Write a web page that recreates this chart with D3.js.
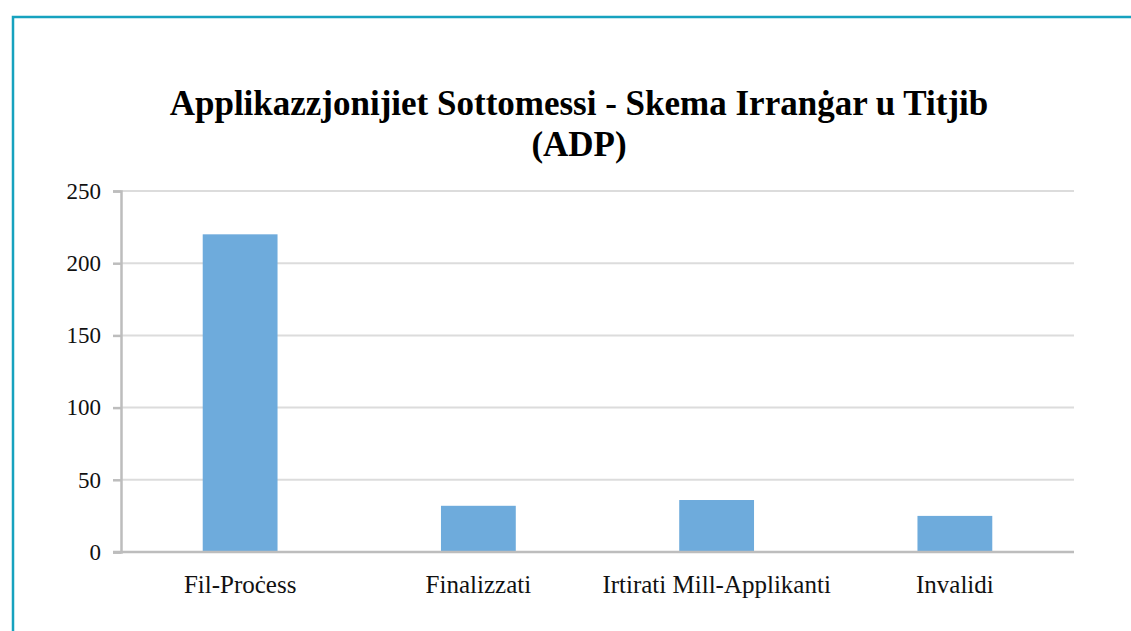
<!DOCTYPE html>
<html>
<head>
<meta charset="utf-8">
<script src="https://cdn.jsdelivr.net/npm/d3@7"></script>
<style>
  body { margin: 0; background: #fff; }
  svg { display: block; }
</style>
</head>
<body>
<div id="chart"></div>
<script>
// data
var categories = ["Fil-Proċess", "Finalizzati", "Irtirati Mill-Applikanti", "Invalidi"];
var values = [220, 32, 36, 25];
var yTicks = [0, 50, 100, 150, 200, 250];
var titleLines = ["Applikazzjonijiet Sottomessi - Skema Irranġar u Titjib", "(ADP)"];

var serif = "'Liberation Serif', 'Times New Roman', 'DejaVu Serif', serif";

var W = 1131, H = 631;
var margin = {top: 191, right: 57, bottom: 79, left: 121};
var width = W - margin.left - margin.right;
var height = H - margin.top - margin.bottom;

var svg = d3.select("#chart").append("svg")
    .attr("width", W)
    .attr("height", H);

// teal frame of the chart area (runs off the right and bottom)
svg.append("rect")
    .attr("x", 13).attr("y", 17)
    .attr("width", 1200).attr("height", 700)
    .attr("fill", "none")
    .attr("stroke", "#17a2bf")
    .attr("stroke-width", 2.5);

// title
svg.append("text")
    .attr("x", 579)
    .attr("y", 115)
    .attr("text-anchor", "middle")
    .attr("font-family", serif)
    .style("font-weight", "bold")
    .style("font-size", "35px")
    .style("fill", "#000")
    .selectAll("tspan")
    .data(titleLines).enter()
    .append("tspan")
      .attr("x", 579)
      .attr("dy", function(d, i) { return i ? 41 : 0; })
      .text(function(d) { return d; });

var g = svg.append("g")
    .attr("transform", "translate(" + margin.left + "," + margin.top + ")");

var x = d3.scaleBand()
    .domain(categories)
    .range([0, width])
    .paddingInner(0.686)
    .paddingOuter(0.343);

var y = d3.scaleLinear()
    .domain([0, 250])
    .range([height, 0]);

// gridlines
g.append("g")
  .selectAll("line")
  .data(yTicks.filter(function(d) { return d > 0; }))
  .enter().append("line")
    .attr("x1", 0).attr("x2", width)
    .attr("y1", function(d) { return y(d); })
    .attr("y2", function(d) { return y(d); })
    .attr("stroke", "#dcdcdc")
    .attr("stroke-width", 2);

// bars
g.selectAll(".bar")
    .data(values)
  .enter().append("rect")
    .attr("class", "bar")
    .attr("x", function(d, i) { return x(categories[i]); })
    .attr("y", function(d) { return y(d); })
    .attr("width", x.bandwidth())
    .attr("height", function(d) { return height - y(d); })
    .attr("fill", "#6eabdc");

// y axis
var yAxis = g.append("g")
    .call(d3.axisLeft(y).tickValues(yTicks).tickSize(8).tickPadding(12))
    .attr("font-family", serif)
    .attr("font-size", 23);
yAxis.select(".domain").attr("stroke", "#bdbdbd").attr("stroke-width", 2.5);
yAxis.selectAll(".tick line").attr("stroke", "#bdbdbd").attr("stroke-width", 2.5);
yAxis.selectAll(".tick text").attr("fill", "#111");

// x axis
var xAxis = g.append("g")
    .attr("transform", "translate(0," + height + ")")
    .call(d3.axisBottom(x).tickSize(0).tickPadding(23))
    .attr("font-family", serif)
    .attr("font-size", 25);
xAxis.select(".domain").remove();
xAxis.append("line")
    .attr("x1", -8).attr("x2", width)
    .attr("stroke", "#bdbdbd")
    .attr("stroke-width", 2.5);
xAxis.selectAll(".tick text").attr("fill", "#111");
</script>
</body>
</html>
